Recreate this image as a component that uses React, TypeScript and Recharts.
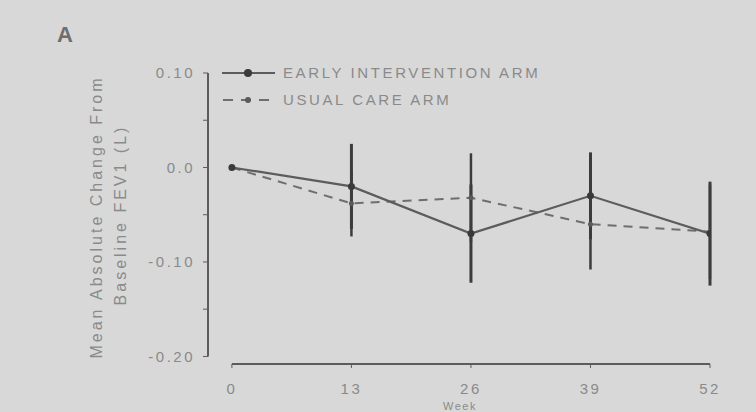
import { LineChart, Line, XAxis, YAxis, ErrorBar, ReferenceLine } from 'recharts'

const weeks      = [0, 13, 26, 39, 52]
const earlyMean  = [0, -0.02, -0.07, -0.03, -0.07]
const earlyErr   = [0, 0.045, 0.052, 0.046, 0.055]
const usualMean  = [0, -0.038, -0.032, -0.06, -0.068]
const usualErr   = [0, 0.035, 0.047, 0.048, 0.05]
const xTicks     = [0, 13, 26, 39, 52]
const yTicks     = [-0.2, -0.15, -0.1, -0.05, 0, 0.05, 0.1]
const yLabels: Record<string, string> = { '0.1': '0.10', '0': '0.0', '-0.1': '-0.10', '-0.2': '-0.20' }

const BG = '#d8d8d8'
const INK = '#8a8a8a'
const LINE = '#5c5c5c'
const BAR = '#3c3c3c'
const FONT = '"Liberation Sans", Arial, sans-serif'

const data = weeks.map((w, i) => ({
  week: w,
  early: earlyMean[i],
  earlyErr: earlyErr[i],
  usual: usualMean[i],
  usualErr: usualErr[i],
}))

export default function App() {
  return (
    <div style={{ position: 'absolute', left: 0, top: 0, width: 756, height: 412, background: BG, overflow: 'hidden', fontFamily: FONT }}>
      <LineChart width={756} height={412} data={data} margin={{ top: 73, right: 46, bottom: 18, left: 0 }}>
        <XAxis
          dataKey="week"
          type="number"
          domain={[-2.6, 52]}
          ticks={xTicks}
          height={30}
          axisLine={false}
          tickLine={{ stroke: LINE }}
          tickSize={4}
          tickMargin={15}
          tick={{ fontSize: 15, fill: INK, letterSpacing: 2.5, fontFamily: FONT }}
          allowDataOverflow
        />
        <YAxis
          type="number"
          domain={[-0.208, 0.1]}
          ticks={yTicks}
          width={208}
          axisLine={false}
          tickLine={{ stroke: LINE }}
          tickSize={5}
          tickMargin={8}
          tickFormatter={(v: number) => yLabels[String(Math.round(v * 100) / 100)] ?? ''}
          tick={{ fontSize: 15, fill: INK, letterSpacing: 2.5, fontFamily: FONT }}
          allowDataOverflow
        />
        <ReferenceLine segment={[{ x: -2.6, y: -0.2 }, { x: -2.6, y: 0.1 }]} stroke={LINE} strokeWidth={2} ifOverflow="visible" />
        <ReferenceLine segment={[{ x: 0, y: -0.208 }, { x: 52, y: -0.208 }]} stroke={LINE} strokeWidth={2} ifOverflow="visible" />
        <Line
          dataKey="usual"
          stroke="#6e6e6e"
          strokeWidth={2}
          strokeDasharray="9 7"
          dot={{ r: 2.5, fill: '#5a5a5a', stroke: 'none' }}
          isAnimationActive={false}
        >
          <ErrorBar dataKey="usualErr" direction="y" width={0} stroke={BAR} strokeWidth={2.5} />
        </Line>
        <Line
          dataKey="early"
          stroke={LINE}
          strokeWidth={2.2}
          dot={{ r: 3.5, fill: '#3a3a3a', stroke: 'none' }}
          isAnimationActive={false}
        >
          <ErrorBar dataKey="earlyErr" direction="y" width={0} stroke={BAR} strokeWidth={3} />
        </Line>
      </LineChart>

      <div style={{ position: 'absolute', left: 57, top: 22, fontSize: 22, fontWeight: 'bold', color: '#6e6e6e' }}>A</div>

      {/* legend */}
      <div style={{ position: 'absolute', left: 222, top: 63, color: INK, fontSize: 15, letterSpacing: 2.6, lineHeight: '20px' }}>
        <div style={{ display: 'flex', alignItems: 'center', height: 20 }}>
          <svg width={56} height={20}>
            <line x1={0} y1={10} x2={53} y2={10} stroke={LINE} strokeWidth={2.2} />
            <circle cx={26} cy={10} r={4} fill="#3a3a3a" />
          </svg>
          <span style={{ marginLeft: 5 }}>EARLY INTERVENTION ARM</span>
        </div>
        <div style={{ display: 'flex', alignItems: 'center', height: 20, marginTop: 7 }}>
          <svg width={56} height={20}>
            <line x1={0} y1={10} x2={53} y2={10} stroke="#6e6e6e" strokeWidth={2} strokeDasharray="10 8" strokeDashoffset={-1} />
            <circle cx={26} cy={10} r={3} fill="#5a5a5a" />
          </svg>
          <span style={{ marginLeft: 5 }}>USUAL CARE ARM</span>
        </div>
      </div>

      {/* y axis title */}
      <div style={{ position: 'absolute', left: 97 - 150, top: 217 - 10, width: 300, height: 20, textAlign: 'center', transform: 'rotate(-90deg)', color: INK, fontSize: 16, letterSpacing: 3, lineHeight: '20px', whiteSpace: 'nowrap' }}>
        Mean Absolute Change From
      </div>
      <div style={{ position: 'absolute', left: 121 - 150, top: 215 - 10, width: 300, height: 20, textAlign: 'center', transform: 'rotate(-90deg)', color: INK, fontSize: 16, letterSpacing: 3, lineHeight: '20px', whiteSpace: 'nowrap' }}>
        Baseline FEV1 (L)
      </div>

      {/* x axis title */}
      <div style={{ position: 'absolute', left: 410, top: 400, width: 100, textAlign: 'center', color: INK, fontSize: 11, letterSpacing: 1.5, lineHeight: '12px' }}>
        Week
      </div>
    </div>
  )
}
